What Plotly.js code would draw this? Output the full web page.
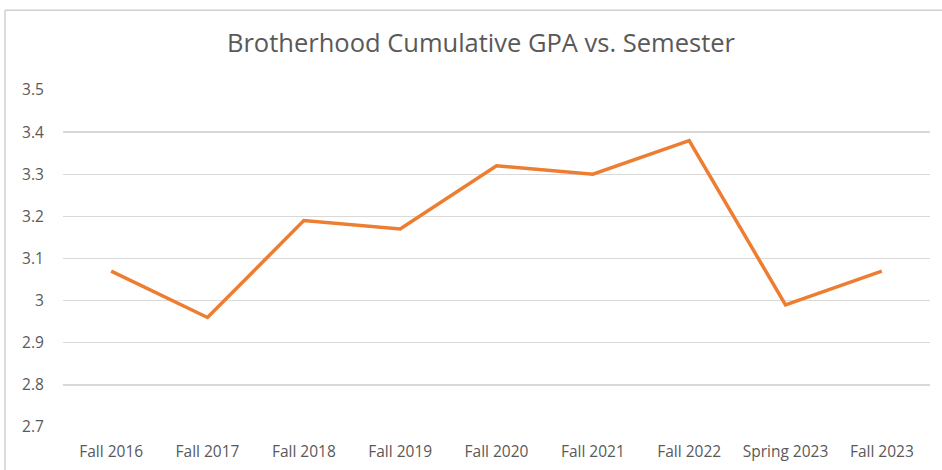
<!DOCTYPE html>
<html>
<head>
<meta charset="utf-8">
<script src="https://cdn.plot.ly/plotly-3.0.1.min.js"></script>
<style>html,body{margin:0;padding:0;background:#fff;}#chart{width:942px;height:470px;}</style>
</head>
<body>
<div id="chart"></div>
<script>
const semesters = ["Fall 2016","Fall 2017","Fall 2018","Fall 2019","Fall 2020","Fall 2021","Fall 2022","Spring 2023","Fall 2023"];
const gpa = [3.07, 2.96, 3.19, 3.17, 3.32, 3.30, 3.38, 2.99, 3.07];
const titleText = "Brotherhood Cumulative GPA vs. Semester";

const trace = {
  x: semesters, y: gpa, type: "scatter", mode: "lines",
  line: {color: "#ED7D31", width: 3.5}, hoverinfo: "none"
};
const layout = {
  width: 942, height: 470,
  margin: {l: 63, r: 12, t: 90, b: 43},
  paper_bgcolor: "#fff", plot_bgcolor: "#fff",
  showlegend: false,
  font: {family: "Open Sans, Lato, sans-serif", color: "#595959", size: 15},
  title: {text: titleText, x: 0.5106, xanchor: "center", y: 0.908, yanchor: "middle",
          font: {family: "Open Sans, Lato, sans-serif", size: 25.5, color: "#595959"}},
  xaxis: {type: "category", range: [-0.5, 8.5], showgrid: false, zeroline: false,
          showline: false, ticks: "outside", ticklen: 10, tickcolor: "rgba(0,0,0,0)",
          tickfont: {size: 15.5, color: "#595959"}},
  yaxis: {range: [2.7, 3.5], dtick: 0.1, tick0: 2.7, showgrid: true, gridcolor: "#d9d9d9",
          gridwidth: 1.4, zeroline: false, showline: false, ticks: "outside", ticklen: 15,
          tickcolor: "rgba(0,0,0,0)", tickfont: {size: 15.5, color: "#595959"}},
  shapes: [
    {type: "line", xref: "paper", yref: "paper", x0: -0.0669, x1: 1.02, y0: 1.237, y1: 1.237,
     line: {color: "#d0d0d0", width: 1.5}},
    {type: "line", xref: "paper", yref: "paper", x0: -0.0669, x1: -0.0669, y0: 1.237, y1: -0.13,
     line: {color: "#d0d0d0", width: 1.5}}
  ]
};
Plotly.newPlot("chart", [trace], layout, {staticPlot: true, displayModeBar: false});
</script>
</body>
</html>
